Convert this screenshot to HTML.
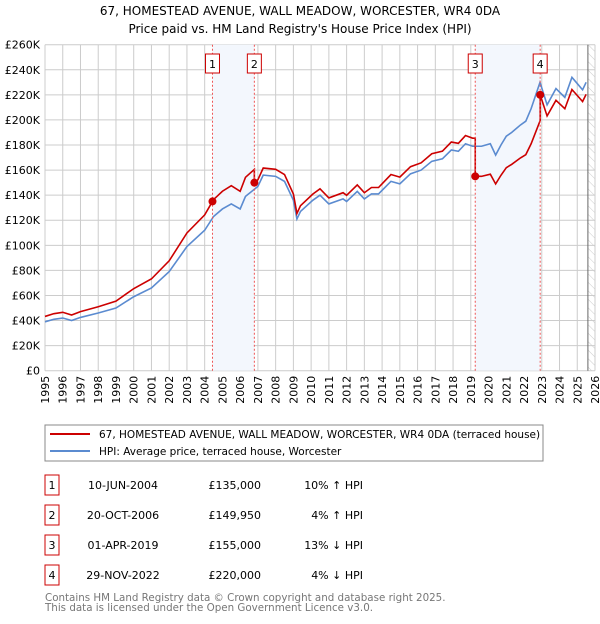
<!DOCTYPE html>
<html><head><meta charset="utf-8"><style>
body{margin:0;background:#fff;width:600px;height:620px;overflow:hidden;font-family:"DejaVu Sans","Liberation Sans",sans-serif}
svg text{font-family:"DejaVu Sans","Liberation Sans",sans-serif}
</style></head><body>
<svg id="c" width="600" height="620" viewBox="0 0 600 620" xmlns="http://www.w3.org/2000/svg">
<text x="300" y="15" text-anchor="middle" font-size="12" fill="#000">67, HOMESTEAD AVENUE, WALL MEADOW, WORCESTER, WR4 0DA</text>
<text x="300" y="33" text-anchor="middle" font-size="12" fill="#000">Price paid vs. HM Land Registry's House Price Index (HPI)</text>
<defs><pattern id="hatch" width="6" height="6" patternUnits="userSpaceOnUse" patternTransform="rotate(-45)"><line x1="0" y1="0" x2="0" y2="6" stroke="#ccc" stroke-width="1"/></pattern></defs>
<g id="grid"></g><g id="shade"></g><g id="lines"></g><g id="marks"></g><g id="axes"></g>
<g>
<rect x="45" y="425" width="498" height="36" fill="#fff" stroke="#888"/>
<line x1="50" y1="434" x2="90" y2="434" stroke="#cc0000" stroke-width="2"/>
<text x="99" y="438" font-size="10.5">67, HOMESTEAD AVENUE, WALL MEADOW, WORCESTER, WR4 0DA (terraced house)</text>
<line x1="50" y1="451" x2="90" y2="451" stroke="#5b8bd0" stroke-width="2"/>
<text x="99" y="455" font-size="10.5">HPI: Average price, terraced house, Worcester</text>
</g>
<g id="table" font-size="11"></g>
<text x="45" y="601" font-size="10.3" fill="#777">Contains HM Land Registry data © Crown copyright and database right 2025.</text>
<text x="45" y="611" font-size="10.3" fill="#777">This data is licensed under the Open Government Licence v3.0.</text>
</svg>
<script>
const hpiYears=[1995,1995.5,1996,1996.5,1997,1998,1999,2000,2001,2002,2003,2004,2004.5,2005,2005.5,2006,2006.3,2007,2007.3,2008,2008.5,2009,2009.2,2009.4,2010.1,2010.5,2011,2011.8,2012,2012.6,2013,2013.4,2013.8,2014.5,2015,2015.6,2016.2,2016.8,2017.4,2017.9,2018.3,2018.7,2019.1,2019.6,2020.1,2020.4,2020.7,2021,2021.3,2021.8,2022.1,2022.4,2022.9,2023.3,2023.8,2024.3,2024.7,2025,2025.3,2025.5];
const hpiValues=[39,41,42,40,42.5,46,50,59,66,79,99,112,123,129,133,129,139,147,156,155,151,136,121,127,136,140,133,137,135,143,137,141,141,151,149,157,160,167,169,176,175,181,179,179,181,172,180,187,190,196,199,209,230,212,225,218,234,229,224,230];
const saleNums=["1","2","3","4"];
const saleYears=[2004.44,2006.80,2019.25,2022.91];
const salePrices=[135,149.95,155,220];
const saleDates=["10-JUN-2004","20-OCT-2006","01-APR-2019","29-NOV-2022"];
const salePriceLabels=["£135,000","£149,950","£155,000","£220,000"];
const salePctLabels=["10% ↑ HPI","4% ↑ HPI","13% ↓ HPI","4% ↓ HPI"];
const yTicks=[0,20,40,60,80,100,120,140,160,180,200,220,240,260];
const xTicks=[1995,1996,1997,1998,1999,2000,2001,2002,2003,2004,2005,2006,2007,2008,2009,2010,2011,2012,2013,2014,2015,2016,2017,2018,2019,2020,2021,2022,2023,2024,2025,2026];
const dataEnd=2025.6;

const X0=45,X1=595,Y0=370.7,Y1=44.7;
const sx=y=>X0+(y-1995)/(2026-1995)*(X1-X0);
const sy=v=>Y0-v/260*(Y0-Y1);
const NS="http://www.w3.org/2000/svg";
function mk(p,t,a){const e=document.createElementNS(NS,t);for(const k in a)e.setAttribute(k,a[k]);p.appendChild(e);return e;}
function hpiAt(y){for(let i=1;i<hpiYears.length;i++){if(y<=hpiYears[i]){const t=(y-hpiYears[i-1])/(hpiYears[i]-hpiYears[i-1]);return hpiValues[i-1]+t*(hpiValues[i]-hpiValues[i-1]);}}return hpiValues[hpiValues.length-1];}
const g=document.getElementById('grid'),sh=document.getElementById('shade'),ln=document.getElementById('lines'),mg=document.getElementById('marks'),ax=document.getElementById('axes'),tb=document.getElementById('table');
for(let i=0;i+1<saleYears.length;i+=2){const r=mk(sh,'rect',{x:sx(saleYears[i]),y:Y1,width:sx(saleYears[i+1])-sx(saleYears[i]),height:Y0-Y1,fill:'#f3f7fd'});

}
const hr=mk(sh,'rect',{x:sx(dataEnd),y:Y1,width:X1-sx(dataEnd),height:Y0-Y1,fill:'url(#hatch)'});


yTicks.forEach(v=>{const l=mk(g,'line',{x1:X0,x2:X1,y1:sy(v),y2:sy(v),stroke:'#cccccc','stroke-width':1});


const t=mk(ax,'text',{x:40,y:sy(v)+4,'text-anchor':'end','font-size':11});t.textContent=v===0?'£0':'£'+v+'K';

});
xTicks.forEach(y=>{const l=mk(g,'line',{x1:sx(y),x2:sx(y),y1:Y1,y2:Y0,stroke:'#cccccc','stroke-width':1});


const t=mk(ax,'text',{transform:`translate(${sx(y)+4},${Y0+5}) rotate(-90)`,'text-anchor':'end','font-size':11});t.textContent=y;

});
const el=mk(ax,'line',{x1:sx(dataEnd),x2:sx(dataEnd),y1:Y1,y2:Y0,stroke:'#666','stroke-width':1});


const hp=mk(ln,'polyline',{points:hpiYears.map((y,i)=>sx(y)+','+sy(hpiValues[i])).join(' '),fill:'none',stroke:'#5b8bd0','stroke-width':1.6});


const factors=saleYears.map((y,i)=>salePrices[i]/hpiAt(y));
function fAt(y){let f=factors[0];for(let i=0;i<saleYears.length;i++)if(y>=saleYears[i])f=factors[i];return f;}
let pts=[];
hpiYears.forEach((y,i)=>{saleYears.forEach((s,k)=>{const prev=i>0?hpiYears[i-1]:-1;if(s>prev&&s<=y){if(k>0)pts.push([s,hpiAt(s)*factors[k-1]]);pts.push([s,salePrices[k]]);}});pts.push([y,hpiValues[i]*fAt(y)]);});
pts.sort((a,b)=>a[0]-b[0]);
const pl=mk(ln,'polyline',{points:pts.map(p=>sx(p[0])+','+sy(p[1])).join(' '),fill:'none',stroke:'#cc0000','stroke-width':1.6});


saleYears.forEach((y,i)=>{const x=sx(y);
const d=mk(mg,'line',{x1:x,x2:x,y1:Y1,y2:Y0,stroke:'#ee5555','stroke-width':1,'stroke-dasharray':'2,2'});


const c=mk(mg,'circle',{cx:x,cy:sy(salePrices[i]),r:4,fill:'#cc0000'});


const b=mk(mg,'rect',{x:x-7,y:54,width:14,height:19,fill:'#fff',stroke:'#cc0000'});


const t=mk(mg,'text',{x:x,y:68,'text-anchor':'middle','font-size':11});t.textContent=saleNums[i];


const ry=475+i*30;
const tb1=mk(tb,'rect',{x:45,y:ry,width:14,height:20,fill:'#fff',stroke:'#cc0000'});


const a=mk(tb,'text',{x:52,y:ry+14,'text-anchor':'middle'});a.textContent=saleNums[i];


const dt=mk(tb,'text',{x:123,y:ry+14,'text-anchor':'middle'});dt.textContent=saleDates[i];


const pr=mk(tb,'text',{x:261,y:ry+14,'text-anchor':'end'});pr.textContent=salePriceLabels[i];


const pc=mk(tb,'text',{x:363,y:ry+14,'text-anchor':'end'});pc.textContent=salePctLabels[i];


});
</script>
</body></html>
